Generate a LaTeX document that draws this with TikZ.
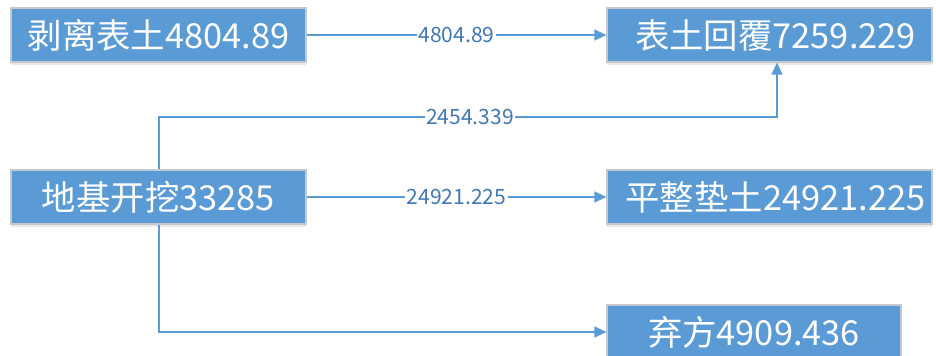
\documentclass[tikz,border=0pt]{standalone}
\usepackage{fontspec}
\setmainfont{Noto Sans CJK SC}
\usetikzlibrary{arrows.meta,shadows}
\definecolor{boxblue}{HTML}{5B9BD5}
\definecolor{edgeblue}{HTML}{5B9BD5}
\definecolor{labblue}{HTML}{3F78B4}
\definecolor{rim}{HTML}{C4C9CF}
\tikzset{
  box/.style={draw=rim, line width=0.8pt, fill=boxblue, text=white,
    minimum height=40.5pt, inner sep=0pt, anchor=center,
    font=\fontsize{25.8}{28}\selectfont,
    drop shadow={shadow xshift=0pt, shadow yshift=-2.5pt, opacity=0.18, fill=gray}},
  flow/.style={draw=edgeblue, line width=1.5pt,
    -{Triangle[length=9pt,width=8pt]}},
  lab/.style={fill=white, text=labblue, inner sep=1pt,
    font=\fontsize{15.8}{17}\selectfont}
}
\begin{document}
\begin{tikzpicture}[x=0.75pt,y=-0.75pt]
  \useasboundingbox (0,0) rectangle (936,356);
  \node[box, minimum width=221.25pt] (A) at (158.5,35) {剥离表土4804.89};
  \node[box, minimum width=243.75pt] (B) at (769.5,35) {\hspace*{9pt}表土回覆7259.229};
  \node[box, minimum width=221.25pt] (C) at (158.5,197) {地基开挖33285};
  \node[box, minimum width=243.75pt] (D) at (769.5,197) {\hspace*{9pt}平整垫土24921.225};
  \node[box, minimum width=220.5pt] (E) at (754,332) {弃方4909.436};

  \coordinate (up) at (159,117);
  \coordinate (upin) at (777,117);

  \draw[flow] (A.east) -- node[lab] {4804.89} (B.west);
  \draw[flow] (C.east) -- node[lab] {24921.225} (D.west);
  \draw[flow] (C.north -| up) -- (up) -- node[lab, pos=0.503] {2454.339} (upin) -- (B.south -| upin);
  \draw[flow] (C.south -| up) |- (E.west);
\end{tikzpicture}
\end{document}
